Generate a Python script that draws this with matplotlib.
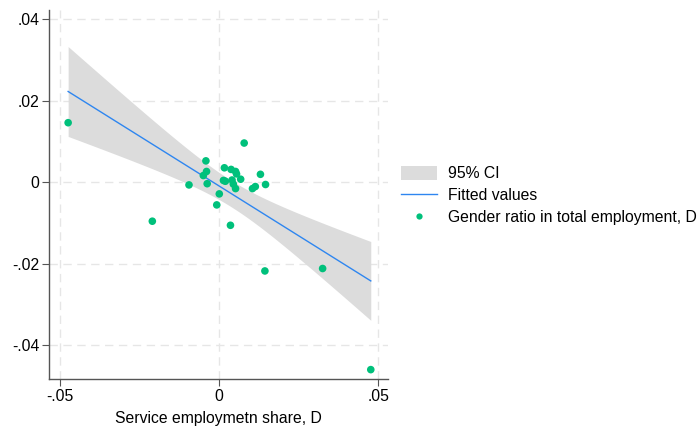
import numpy as np
import matplotlib
matplotlib.use("Agg")
import matplotlib.pyplot as plt
from matplotlib.patches import Patch
from matplotlib.lines import Line2D

plt.rcParams['font.family'] = ['Liberation Sans', 'DejaVu Sans']

# Data
service_share_d = [-0.0473, 0.0079, -0.0041, -0.0049, -0.0039, -0.0037, -0.0094,
                   0.0017, 0.0014, 0.0020, 0.0038, 0.0052, 0.0055, 0.0068, 0.0041,
                   0.0045, 0.0052, 0.0105, 0.0114, 0.0130, 0.0146, 0.0001, -0.0007,
                   0.0036, -0.0209, 0.0144, 0.0325, 0.0476]
gender_ratio_d = [0.01456, 0.00957, 0.0052, 0.0016, 0.0026, -0.0004, -0.0007,
                  0.0035, 0.0004, 0.0002, 0.0031, 0.0026, 0.0020, 0.0007, 0.0005,
                  -0.0005, -0.0016, -0.0016, -0.0011, 0.0019, -0.0006, -0.0029, -0.0056,
                  -0.0106, -0.0096, -0.0218, -0.0212, -0.0460]

x_ticks = [-0.05, 0, 0.05]
x_ticklabels = ['-.05', '0', '.05']
y_ticks = [-0.04, -0.02, 0, 0.02, 0.04]
y_ticklabels = ['-.04', '-.02', '0', '.02', '.04']

x = np.array(service_share_d)
y = np.array(gender_ratio_d)

# Linear fit with 95% CI (as Stata lfitci)
n = len(x)
b1, b0 = np.polyfit(x, y, 1)
resid = y - (b0 + b1 * x)
s = np.sqrt(np.sum(resid**2) / (n - 2))
xm = x.mean()
sxx = np.sum((x - xm)**2)
tcrit = 2.056  # t(0.975, 26)
xf = np.linspace(x.min(), x.max(), 200)
yf = b0 + b1 * xf
se = s * np.sqrt(1.0 / n + (xf - xm)**2 / sxx)
lo = yf - tcrit * se
hi = yf + tcrit * se

fig = plt.figure(figsize=(6.97, 4.30), dpi=100)
ax = fig.add_axes([49/697, 1 - 379/430, (388 - 49)/697, (379 - 10)/430])

ci_color = '#dcdcdc'
line_color = '#2e86f0'
pt_color = '#00c07b'
fs = 11.3

ax.fill_between(xf, lo, hi, color=ci_color, lw=0, zorder=2)
ax.plot(xf, yf, color=line_color, lw=1.0, zorder=3)
ax.scatter(x, y, s=30, color=pt_color, edgecolors='none', zorder=4)

ax.set_xlim(-0.0533, 0.053)
ax.set_ylim(-0.0483, 0.0422)
ax.set_xticks(x_ticks)
ax.set_xticklabels(x_ticklabels)
ax.set_yticks(y_ticks)
ax.set_yticklabels(y_ticklabels)
ax.grid(True, color='#e6e6e6', linestyle=(0, (6, 4)), lw=1.0, zorder=0)
ax.set_axisbelow(True)
for side in ['top', 'right']:
    ax.spines[side].set_visible(False)
for side in ['left', 'bottom']:
    ax.spines[side].set_color('#555555')
    ax.spines[side].set_linewidth(1.0)
ax.tick_params(direction='out', length=5, width=0.8, color='#555555',
               labelsize=fs, labelcolor='black', pad=2)
ax.set_xlabel('Service employmetn share, D', fontsize=fs, labelpad=5)

handles = [Patch(facecolor=ci_color, edgecolor='none'),
           Line2D([0], [0], color=line_color, lw=1.0),
           Line2D([0], [0], marker='o', color='none', markerfacecolor=pt_color,
                  markeredgecolor='none', markersize=4.5)]
labels = ['95% CI', 'Fitted values', 'Gender ratio in total employment, D']
fig.legend(handles, labels, loc='upper left', bbox_to_anchor=(401/697, 1 - 166/430),
           frameon=False, fontsize=fs, handlelength=2.3, handleheight=1.0,
           handletextpad=0.7, labelspacing=0.42, borderpad=0, borderaxespad=0)

fig.savefig('out.png', dpi=100)
